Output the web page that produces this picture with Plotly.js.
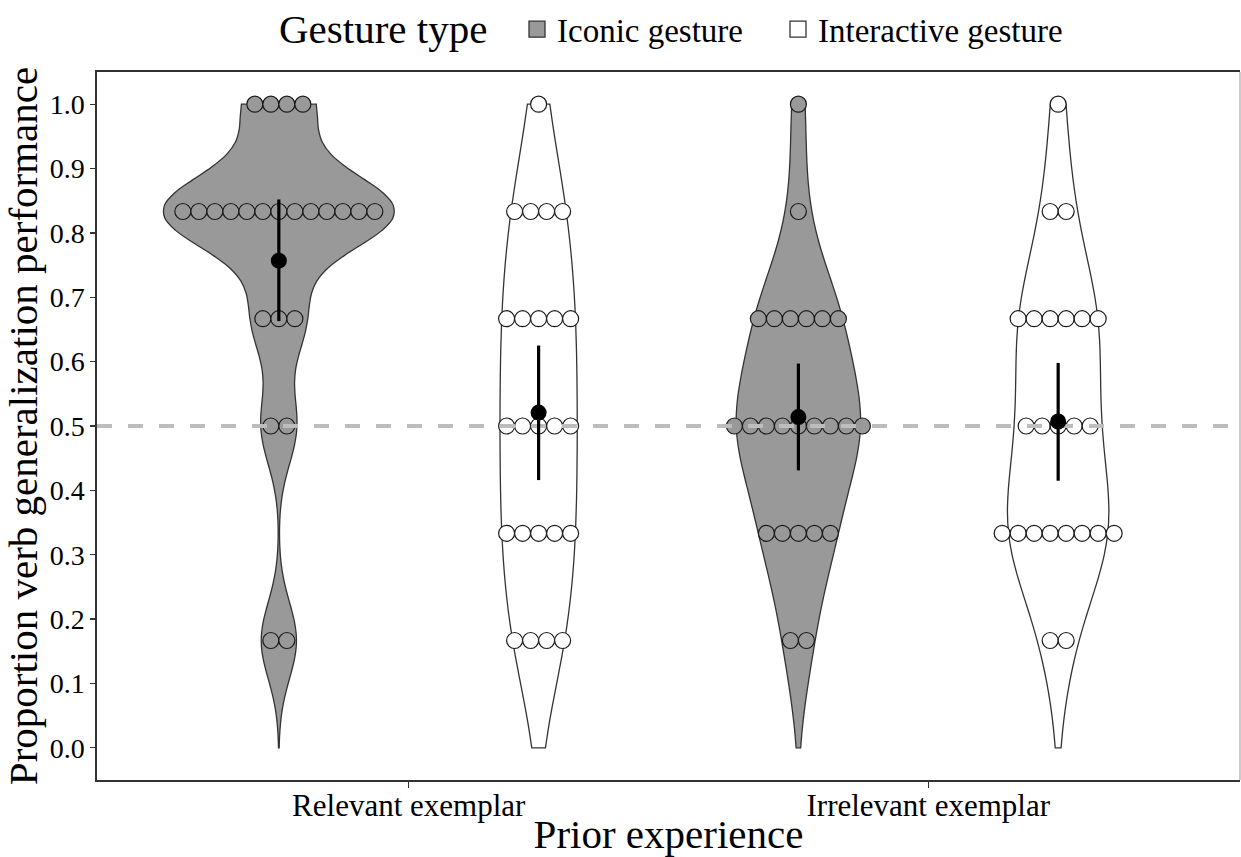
<!DOCTYPE html>
<html><head><meta charset="utf-8">
<script src="https://cdn.plot.ly/plotly-3.0.1.min.js"></script>
<style>html,body{margin:0;padding:0;background:#fff}#chart{width:1241px;height:857px}</style>
</head><body><div id="chart"></div>
<script>
// ---------- data ----------
const categories = ['Relevant exemplar', 'Irrelevant exemplar'];
const gestureTypes = ['Iconic gesture', 'Interactive gesture'];
const legendTitle = 'Gesture type';

const relevantIconic = [1, 1, 1, 1,
  0.8333, 0.8333, 0.8333, 0.8333, 0.8333, 0.8333, 0.8333, 0.8333, 0.8333, 0.8333, 0.8333, 0.8333, 0.8333,
  0.6667, 0.6667, 0.6667, 0.5, 0.5, 0.1667, 0.1667];
const relevantInteractive = [1, 0.8333, 0.8333, 0.8333, 0.8333,
  0.6667, 0.6667, 0.6667, 0.6667, 0.6667, 0.5, 0.5, 0.5, 0.5, 0.5,
  0.3333, 0.3333, 0.3333, 0.3333, 0.3333, 0.1667, 0.1667, 0.1667, 0.1667];
const irrelevantIconic = [1, 0.8333,
  0.6667, 0.6667, 0.6667, 0.6667, 0.6667, 0.6667,
  0.5, 0.5, 0.5, 0.5, 0.5, 0.5, 0.5, 0.5, 0.5,
  0.3333, 0.3333, 0.3333, 0.3333, 0.3333, 0.1667, 0.1667];
const irrelevantInteractive = [1, 0.8333, 0.8333,
  0.6667, 0.6667, 0.6667, 0.6667, 0.6667, 0.6667,
  0.5, 0.5, 0.5, 0.5, 0.5,
  0.3333, 0.3333, 0.3333, 0.3333, 0.3333, 0.3333, 0.3333, 0.3333, 0.1667, 0.1667];

// 95% CI bounds: [iconic, interactive]
const ciLowerRelevant = [0.663, 0.416];
const ciUpperRelevant = [0.852, 0.625];
const ciLowerIrrelevant = [0.431, 0.415];
const ciUpperIrrelevant = [0.597, 0.598];

const chanceLevel = 0.5;
const yTickVals = [0, 0.1, 0.2, 0.3, 0.4, 0.5, 0.6, 0.7, 0.8, 0.9, 1.0];

// ---------- style / layout ----------
const W = 1241, H = 857;
const margin = {l: 97, r: 1, t: 68, b: 77};
const xRange = [0.4, 2.6];
const yRange = [-0.05, 1.05];
const span = [0, 1];
const dodge = 0.25;
const maxViolinWidth = 0.44;
const dotPx = 16;
const FONT = '"Liberation Serif", "Times New Roman", Times, serif';
const fills = ['#999999', '#ffffff'];
const plotW = W - margin.l - margin.r, plotH = H - margin.t - margin.b;
const pxPerUnit = plotW / (xRange[1] - xRange[0]);
const pxToPaperX = px => (px - margin.l) / plotW;
const pxToPaperY = py => 1 + (margin.t - py) / plotH;

const groups = [
  {cat: 0, g: 0, vals: relevantIconic, lo: ciLowerRelevant[0], hi: ciUpperRelevant[0]},
  {cat: 0, g: 1, vals: relevantInteractive, lo: ciLowerRelevant[1], hi: ciUpperRelevant[1]},
  {cat: 1, g: 0, vals: irrelevantIconic, lo: ciLowerIrrelevant[0], hi: ciUpperIrrelevant[0]},
  {cat: 1, g: 1, vals: irrelevantInteractive, lo: ciLowerIrrelevant[1], hi: ciUpperIrrelevant[1]}
];

function mean(v) { return v.reduce((a, b) => a + b, 0) / v.length; }
function q7(s, p) { const h = (s.length - 1) * p, lo = Math.floor(h); const hi = Math.min(lo + 1, s.length - 1); return s[lo] + (h - lo) * (s[hi] - s[lo]); }
function bwNrd0(v) {
  const n = v.length, m = mean(v);
  const sd = Math.sqrt(v.reduce((a, x) => a + (x - m) * (x - m), 0) / (n - 1));
  const s = [...v].sort((a, b) => a - b);
  let lo = Math.min(sd, (q7(s, 0.75) - q7(s, 0.25)) / 1.34);
  if (!lo) lo = sd || 1;
  return 0.9 * lo * Math.pow(n, -0.2);
}
function maxKDE(v, bw) {
  let best = 0;
  for (let i = 0; i <= 1000; i++) {
    const x = span[0] + (span[1] - span[0]) * i / 1000;
    let s = 0;
    v.forEach(xi => { const z = (x - xi) / bw; s += Math.exp(-0.5 * z * z); });
    s /= (v.length * bw * Math.sqrt(2 * Math.PI));
    if (s > best) best = s;
  }
  return best;
}
groups.forEach(gr => { gr.pos = gr.cat + 1 + (gr.g === 0 ? -dodge : dodge); gr.bw = bwNrd0(gr.vals); gr.peak = maxKDE(gr.vals, gr.bw); });
const globalPeak = Math.max(...groups.map(gr => gr.peak));

const traces = [];
// legend keys (one legend per key so they can be spaced like the original)
gestureTypes.forEach((name, g) => {
  traces.push({type: 'scatter', mode: 'markers', x: [null], y: [null], name: name,
    legend: g === 0 ? 'legend' : 'legend2',
    marker: {symbol: 'square', size: 16, color: fills[g], line: {color: '#333333', width: 1.3}},
    showlegend: true, hoverinfo: 'skip'});
});

// violins (equal-area scaling, as ggplot's default)
groups.forEach(gr => {
  traces.push({type: 'violin', x0: gr.pos, y: gr.vals, name: gestureTypes[gr.g],
    width: maxViolinWidth * gr.peak / globalPeak, scalemode: 'width',
    spanmode: 'manual', span: span, bandwidth: gr.bw,
    points: false, box: {visible: false}, meanline: {visible: false},
    fillcolor: fills[gr.g], line: {color: '#333333', width: 1.3},
    showlegend: false, hoverinfo: 'skip'});
});

// dot plots (centered stacks)
groups.forEach(gr => {
  const counts = new Map();
  gr.vals.forEach(v => { const k = v.toFixed(4); counts.set(k, (counts.get(k) || 0) + 1); });
  const xs = [], ys = [];
  counts.forEach((n, k) => {
    for (let i = 0; i < n; i++) {
      xs.push(gr.pos + (i - (n - 1) / 2) * dotPx / pxPerUnit);
      ys.push(parseFloat(k));
    }
  });
  traces.push({type: 'scatter', mode: 'markers', x: xs, y: ys, showlegend: false, hoverinfo: 'skip',
    marker: {size: dotPx, color: fills[gr.g], line: {color: '#1a1a1a', width: 1.2}}});
});

// chance line
traces.push({type: 'scatter', mode: 'lines', x: xRange, y: [chanceLevel, chanceLevel], showlegend: false,
  hoverinfo: 'skip', line: {color: '#bdbdbd', width: 4, dash: '15px,16px'}});

// means + CI
groups.forEach(gr => {
  const m = mean(gr.vals);
  traces.push({type: 'scatter', mode: 'markers', x: [gr.pos], y: [m], showlegend: false, hoverinfo: 'skip',
    marker: {size: 16, color: '#000000'},
    error_y: {type: 'data', symmetric: false, array: [gr.hi - m], arrayminus: [m - gr.lo],
      width: 0, thickness: 3.2, color: '#000000'}});
});

const legendY = pxToPaperY(25);
const legendCommon = {orientation: 'h', y: legendY, yanchor: 'middle', xanchor: 'left',
  font: {size: 33, family: FONT, color: '#000'}, itemsizing: 'trace', bgcolor: 'rgba(0,0,0,0)'};

const layout = {
  width: W, height: H, margin: margin,
  paper_bgcolor: '#ffffff', plot_bgcolor: '#ffffff',
  font: {family: FONT, color: '#000000'},
  violinmode: 'overlay',
  xaxis: {type: 'linear', range: xRange, tickvals: [1, 2], ticktext: categories,
    ticks: 'outside', ticklen: 6, tickcolor: '#333333', tickwidth: 1.2,
    tickfont: {size: 31, family: FONT, color: '#000'}, ticklabelstandoff: -9,
    showgrid: false, zeroline: false, showline: true, linecolor: '#333333', linewidth: 1.6, mirror: true,
    title: {text: 'Prior experience', font: {size: 41, family: FONT, color: '#000'}, standoff: 0},
    automargin: false, fixedrange: true},
  yaxis: {range: yRange, tickvals: yTickVals, tickformat: '.1f',
    ticks: 'outside', ticklen: 5, tickcolor: '#333333', tickwidth: 1.2,
    tickfont: {size: 28, family: FONT, color: '#000'},
    showgrid: false, zeroline: false, showline: true, linecolor: '#333333', linewidth: 1.6,
    title: {text: 'Proportion verb generalization performance', font: {size: 41, family: FONT, color: '#000'}, standoff: 6},
    automargin: false, fixedrange: true},
  shapes: [{type: 'line', xref: 'paper', yref: 'paper', x0: 1, x1: 1, y0: 0, y1: 1,
    line: {color: '#bbbbbb', width: 1.5}}],
  annotations: [{text: legendTitle, xref: 'paper', yref: 'paper', x: pxToPaperX(489), y: legendY,
    xanchor: 'right', yanchor: 'middle', showarrow: false, font: {size: 41, family: FONT, color: '#000'}}],
  legend: Object.assign({x: pxToPaperX(517)}, legendCommon),
  legend2: Object.assign({x: pxToPaperX(778)}, legendCommon),
  showlegend: true
};

Plotly.newPlot('chart', traces, layout, {displayModeBar: false, staticPlot: true});
</script>
</body></html>
